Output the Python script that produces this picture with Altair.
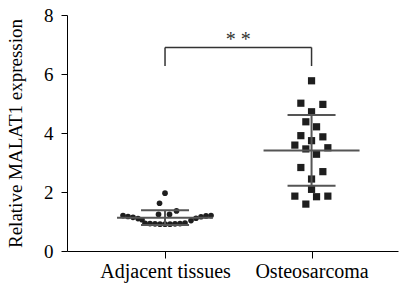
import altair as alt
import pandas as pd

# ---- data ----
categories = ["Adjacent tissues", "Osteosarcoma"]

adjacent_values = [1.96, 1.62, 1.36, 1.24, 1.24,
                   1.20, 1.17, 1.14, 1.10, 1.06,
                   0.94, 0.93, 0.92, 0.91, 0.91, 0.91, 0.92, 0.93, 0.95,
                   1.03, 1.11, 1.16, 1.19, 1.20]
osteo_values = [5.77, 5.01, 4.97, 4.72, 4.38, 4.21, 3.91, 3.87, 3.74, 3.59,
                3.46, 3.50, 3.28, 2.83, 2.69, 2.44, 2.09, 1.86, 1.84, 1.86, 1.59]

# horizontal scatter columns (pixels from category centre), layout only
adjacent_cols = [0, -5.5, 11.5, -6.5, 4.5,
                 -42, -37, -32, -27, -23,
                 -20, -15, -10, -5, 0, 5, 10, 15, 20,
                 26, 31, 36, 41, 46]
osteo_cols = [0, -10.7, 11.3, 0, -5.7, 5, -10.7, 11.3, 0, -16.7,
              -5.7, 16.3, 5, -10.7, 11.3, 0, 0, -16.7, 5, 16.3, -5.7]

y_ticks = [0, 2, 4, 6, 8]
signif_label = "* *"
bracket_top = 6.9
bracket_leg = 6.27

# ---- layout ----
W, H = 331, 236
XMIN, XMAX = -0.669, 1.590
unit = (XMAX - XMIN) / W  # data units per pixel
FONT = "Liberation Serif"
LINE = "#555555"
DOT = "#1e1e1e"

adj = pd.DataFrame({"idx": 0, "value": adjacent_values, "col": adjacent_cols})
ost = pd.DataFrame({"idx": 1, "value": osteo_values, "col": osteo_cols})
allpts = pd.concat([adj, ost], ignore_index=True)

xscale = alt.Scale(domain=[XMIN, XMAX], nice=False, zero=False)
yscale = alt.Scale(domain=[0, 8], nice=False)

label_expr = "datum.value == 0 ? '%s' : '%s'" % (categories[0], categories[1])

xaxis = alt.Axis(values=[0, 1], labelExpr=label_expr, grid=False, tickSize=7,
                 labelPadding=3, labelFont=FONT, labelFontSize=20,
                 labelColor="black", domainColor="black", tickColor="black",
                 labelFlush=False, title=None)
yaxis = alt.Axis(values=y_ticks, grid=False, tickSize=6, labelPadding=8,
                 labelFont=FONT, labelFontSize=19, labelColor="black",
                 domainColor="black", tickColor="black",
                 title="Relative MALAT1 expression", titleFont=FONT,
                 titleFontSize=19, titleFontWeight="normal", titleColor="black",
                 titleAngle=270, titleX=-46, titleY=H / 2, titleAlign="center",
                 titleBaseline="alphabetic")

base_pts = alt.Chart(allpts).transform_calculate(
    xpos="datum.idx + datum.col * %f" % unit
)

circles = base_pts.transform_filter("datum.idx == 0").mark_point(
    shape="circle", filled=True, size=32, color=DOT, opacity=1
).encode(
    x=alt.X("xpos:Q", scale=xscale, axis=xaxis),
    y=alt.Y("value:Q", scale=yscale, axis=yaxis),
)

squares = base_pts.transform_filter("datum.idx == 1").mark_point(
    shape="square", filled=True, size=52, color=DOT, opacity=1
).encode(
    x=alt.X("xpos:Q", scale=xscale),
    y=alt.Y("value:Q", scale=yscale),
)

summary = alt.Chart(allpts).transform_aggregate(
    mean="mean(value)", sd="stdev(value)", groupby=["idx"]
).transform_calculate(
    lo="datum.mean - datum.sd",
    hi="datum.mean + datum.sd",
    mx1="datum.idx - %f" % (48 * unit),
    mx2="datum.idx + %f" % (48 * unit),
    sx1="datum.idx - %f" % (24 * unit),
    sx2="datum.idx + %f" % (24 * unit),
)

mean_rule = summary.mark_rule(color=LINE, strokeWidth=2).encode(
    x=alt.X("mx1:Q", scale=xscale), x2="mx2:Q",
    y=alt.Y("mean:Q", scale=yscale),
)
sd_hi = summary.mark_rule(color=LINE, strokeWidth=2).encode(
    x=alt.X("sx1:Q", scale=xscale), x2="sx2:Q",
    y=alt.Y("hi:Q", scale=yscale),
)
sd_lo = summary.mark_rule(color=LINE, strokeWidth=2).encode(
    x=alt.X("sx1:Q", scale=xscale), x2="sx2:Q",
    y=alt.Y("lo:Q", scale=yscale),
)
vbar = summary.mark_rule(color=LINE, strokeWidth=2).encode(
    x=alt.X("idx:Q", scale=xscale),
    y=alt.Y("lo:Q", scale=yscale), y2="hi:Q",
)

bracket_df = pd.DataFrame({
    "x": [0, 0, 1], "x2": [1, 0, 1],
    "y": [bracket_top, bracket_leg, bracket_leg],
    "y2": [bracket_top, bracket_top, bracket_top],
})
bracket = alt.Chart(bracket_df).mark_rule(color="#333333", strokeWidth=1.5).encode(
    x=alt.X("x:Q", scale=xscale), x2="x2:Q",
    y=alt.Y("y:Q", scale=yscale), y2="y2:Q",
)

star_df = pd.DataFrame({"x": [0.5], "y": [bracket_top], "t": [signif_label]})
stars = alt.Chart(star_df).mark_text(
    font=FONT, fontSize=20, color="#333333", baseline="alphabetic", dy=-1
).encode(
    x=alt.X("x:Q", scale=xscale),
    y=alt.Y("y:Q", scale=yscale),
    text="t:N",
)

chart = alt.layer(
    circles, squares, mean_rule, sd_hi, sd_lo, vbar, bracket, stars
).properties(
    width=W, height=H,
    autosize=alt.AutoSizeParams(type="none"),
    padding={"left": 59, "top": 7, "right": 2, "bottom": 40},
).configure_view(strokeWidth=0)

chart.save("out.html", embed_options={"renderer": "svg", "actions": False})
